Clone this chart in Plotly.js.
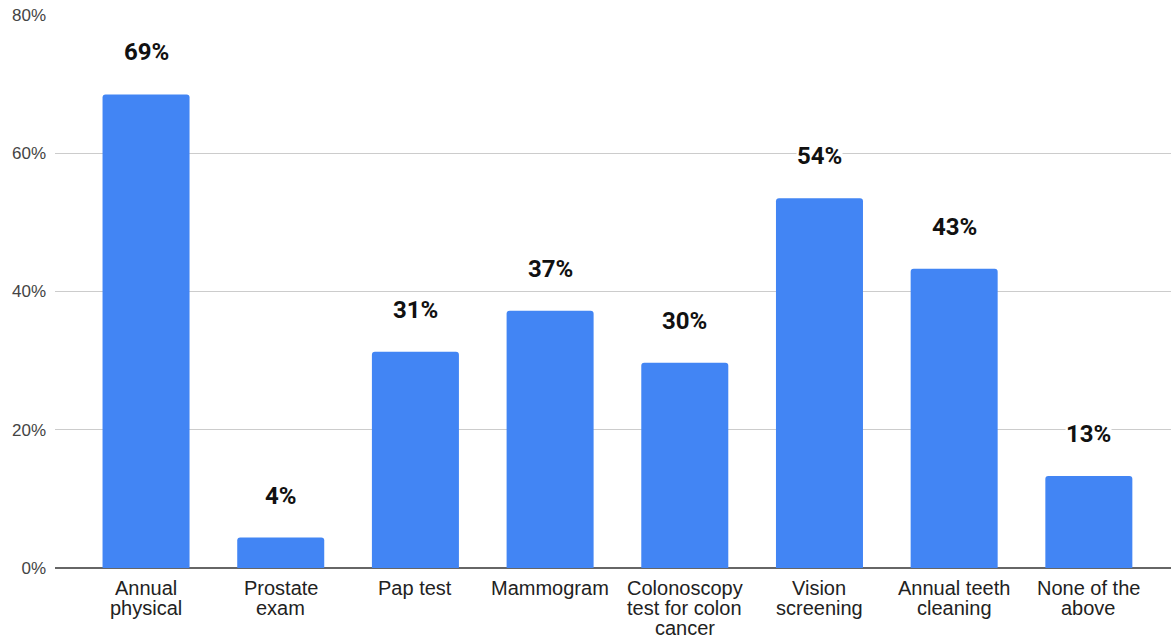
<!DOCTYPE html>
<html>
<head>
<meta charset="utf-8">
<script src="https://cdn.plot.ly/plotly-3.0.1.min.js"></script>
<style>html,body{margin:0;padding:0;background:#fff;}#chart{width:1171px;height:641px;}</style>
</head>
<body>
<div id="chart"></div>
<script>
const categories = ["Annual<br>physical", "Prostate<br>exam", "Pap test", "Mammogram", "Colonoscopy<br>test for colon<br>cancer", "Vision<br>screening", "Annual teeth<br>cleaning", "None of the<br>above"];
const values = [68.5, 4.4, 31.3, 37.2, 29.7, 53.5, 43.3, 13.3];
const valueLabels = ["69%", "4%", "31%", "37%", "30%", "54%", "43%", "13%"];
const yTickVals = [0, 20, 40, 60, 80];
const yTickText = ["0%", "20%", "40%", "60%", "80%"];

const positions = categories.map((c, i) => i);

const trace = {
  type: 'bar',
  x: positions,
  y: values,
  marker: {color: '#4285F4', cornerradius: 3},
  width: 0.646,
  hoverinfo: 'none'
};

const valueAnnotations = values.map((v, i) => ({
  x: i, y: v, xref: 'x', yref: 'y',
  text: '<b>' + valueLabels[i] + '</b>',
  showarrow: false,
  yanchor: 'middle',
  yshift: 42,
  bgcolor: '#ffffff',
  borderpad: 0,
  font: {family: 'Roboto, sans-serif', size: 24, color: '#111111'}
}));

// category labels: one annotation per line to reproduce the tight line spacing
const categoryAnnotations = [];
categories.forEach((c, i) => {
  c.split('<br>').forEach((line, j) => {
    categoryAnnotations.push({
      x: i, y: 0, xref: 'x', yref: 'y',
      text: line,
      showarrow: false,
      yanchor: 'middle',
      yshift: -(20 + j * 20),
      borderpad: 0,
      font: {family: 'Liberation Sans, Arial, sans-serif', size: 20, color: '#222222'}
    });
  });
});

const layout = {
  width: 1171, height: 641,
  margin: {l: 55, r: 0, t: 15, b: 73},
  paper_bgcolor: '#ffffff', plot_bgcolor: '#ffffff',
  showlegend: false,
  xaxis: {
    range: [-0.676, 7.61],
    tickvals: positions,
    showticklabels: false,
    showgrid: false, zeroline: false, showline: false,
    ticks: '',
    fixedrange: true
  },
  yaxis: {
    range: [0, 80],
    tickvals: yTickVals, ticktext: yTickText,
    showgrid: true, gridcolor: '#cccccc', gridwidth: 1,
    zeroline: true, zerolinecolor: '#666666', zerolinewidth: 2,
    showline: false, ticks: '', ticklabelstandoff: 8,
    tickfont: {family: 'Liberation Sans, Arial, sans-serif', size: 17, color: '#444444'},
    fixedrange: true
  },
  annotations: valueAnnotations.concat(categoryAnnotations)
};

Plotly.newPlot('chart', [trace], layout, {displayModeBar: false, staticPlot: true});
</script>
</body>
</html>
